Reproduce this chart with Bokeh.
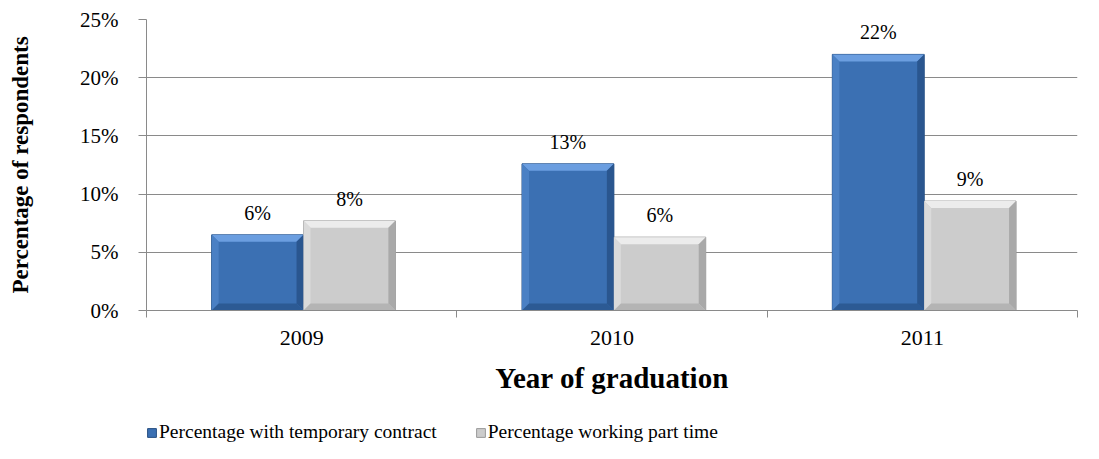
from bokeh.plotting import figure
from bokeh.layouts import column
from bokeh.models import FixedTicker, NumeralTickFormatter, Legend, LegendItem
from bokeh.core.properties import value
from bokeh.embed import file_html
from bokeh.resources import INLINE

# ---- data ----
years = ["2009", "2010", "2011"]
temporary = [0.065, 0.126, 0.220]
part_time = [0.077, 0.063, 0.094]
temporary_labels = ["6%", "13%", "22%"]
part_time_labels = ["8%", "6%", "9%"]
series_names = ["Percentage with temporary contract", "Percentage working part time"]
y_ticks = [0.0, 0.05, 0.10, 0.15, 0.20, 0.25]

FONT = "Liberation Serif"
GRID = "#8a8a8a"
BLUE, BLUE_LINE = "#3b70b3", "#274f82"
GRAY, GRAY_LINE = "#cccccc", "#9a9a9a"

LB, RB, TB, BB = 146, 14, 19, 101
frame_w = 931
frame_h = 291

p = figure(frame_width=frame_w, frame_height=frame_h, x_range=(0, 3), y_range=(0, 0.25),
           output_backend="svg", toolbar_location=None,
           min_border_left=LB, min_border_right=RB,
           min_border_top=TB, min_border_bottom=BB)
p.outline_line_color = None
p.background_fill_color = "white"
p.border_fill_color = "white"

# grid
p.xgrid.grid_line_color = None
p.ygrid.grid_line_color = GRID
p.ygrid.grid_line_width = 1
p.ygrid.ticker = FixedTicker(ticks=y_ticks)

# y axis
p.yaxis.ticker = FixedTicker(ticks=y_ticks)
p.yaxis.formatter = NumeralTickFormatter(format="0%")
p.yaxis.axis_line_color = GRID
p.yaxis.major_tick_line_color = GRID
p.yaxis.major_tick_out = 8
p.yaxis.major_tick_in = 0
p.yaxis.minor_tick_line_color = None
p.yaxis.major_label_text_font = FONT
p.yaxis.major_label_text_font_size = "21px"
p.yaxis.major_label_text_color = "black"
p.yaxis.major_label_standoff = 20
p.yaxis.axis_label = "Percentage of respondents"
p.yaxis.axis_label_text_font = FONT
p.yaxis.axis_label_text_font_size = "23px"
p.yaxis.axis_label_text_font_style = "bold"
p.yaxis.axis_label_text_color = "black"
p.yaxis.axis_label_standoff = 44

# x axis
centers = [i + 0.5 for i in range(len(years))]
p.xaxis.ticker = FixedTicker(ticks=centers, minor_ticks=[float(i) for i in range(len(years) + 1)])
p.xaxis.major_label_overrides = {c: y for c, y in zip(centers, years)}
p.xaxis.axis_line_color = GRID
p.xaxis.major_tick_line_color = None
p.xaxis.major_tick_out = 0
p.xaxis.major_tick_in = 0
p.xaxis.minor_tick_line_color = GRID
p.xaxis.minor_tick_out = 7
p.xaxis.minor_tick_in = 0
p.xaxis.major_label_text_font = FONT
p.xaxis.major_label_text_font_size = "22px"
p.xaxis.major_label_text_color = "black"
p.xaxis.major_label_standoff = 13
p.xaxis.axis_label = "Year of graduation"
p.xaxis.axis_label_text_font = FONT
p.xaxis.axis_label_text_font_size = "29px"
p.xaxis.axis_label_text_font_style = "bold"
p.xaxis.axis_label_text_color = "black"
p.xaxis.axis_label_standoff = 14

# bars
bar_w = 0.296
x_blue = [c - 0.142 for c in centers]
x_gray = [c + 0.154 for c in centers]

# shadows
sx = 3.0 / frame_w * 3
sy = 3.0 / frame_h * 0.25
p.quad(left=[x - bar_w / 2 + sx for x in x_blue], right=[x + bar_w / 2 + sx for x in x_gray],
       top=[0.0] * 3, bottom=[-sy] * 3, fill_color="#d8d8d8", line_color=None, fill_alpha=0.8)

p.vbar(x=x_blue, top=temporary, width=bar_w, fill_color=BLUE, line_color=BLUE_LINE, line_width=1)
p.vbar(x=x_gray, top=part_time, width=bar_w, fill_color=GRAY, line_color=GRAY_LINE, line_width=1)

# bevels
bx = 7.0 / frame_w * 3
by = 7.0 / frame_h * 0.25


def bevels(xs, tops, c_top, c_left, c_right, c_bottom):
    top_x, top_y, l_x, l_y, r_x, r_y, b_x, b_y = [], [], [], [], [], [], [], []
    for x, t in zip(xs, tops):
        L, R = x - bar_w / 2, x + bar_w / 2
        top_x.append([L, R, R - bx, L + bx]); top_y.append([t, t, t - by, t - by])
        l_x.append([L, L + bx, L + bx, L]); l_y.append([t, t - by, by, 0])
        r_x.append([R, R - bx, R - bx, R]); r_y.append([t, t - by, by, 0])
        b_x.append([L, L + bx, R - bx, R]); b_y.append([0, by, by, 0])
    p.patches(top_x, top_y, fill_color=c_top, line_color=None)
    p.patches(l_x, l_y, fill_color=c_left, line_color=None)
    p.patches(r_x, r_y, fill_color=c_right, line_color=None)
    p.patches(b_x, b_y, fill_color=c_bottom, line_color=None)


bevels(x_blue, temporary, "#6b9ee0", "#4a80c4", "#2a568f", "#2c5a94")
bevels(x_gray, part_time, "#ececec", "#dadada", "#a9a9a9", "#b4b4b4")

# data labels
p.text(x=x_blue, y=temporary, text=temporary_labels, text_align="center",
       text_baseline="middle", y_offset=-22, text_font=value(FONT),
       text_font_size="20px", text_color="black")
p.text(x=x_gray, y=part_time, text=part_time_labels, text_align="center",
       text_baseline="middle", y_offset=-22, text_font=value(FONT),
       text_font_size="20px", text_color="black")

# legend strip (separate small figure so the legend is not clipped)
q = figure(frame_width=frame_w, frame_height=38, x_range=(0, 1), y_range=(0, 1),
           output_backend="svg", toolbar_location=None,
           min_border_left=LB, min_border_right=RB, min_border_top=0, min_border_bottom=0)
q.outline_line_color = None
q.axis.visible = False
q.grid.visible = False
# legend swatches: one off-screen sample of each series style
lb = q.quad(left=[-3], right=[-2], bottom=[-3], top=[-2], fill_color=BLUE, line_color=BLUE_LINE)
lg = q.quad(left=[-3], right=[-2], bottom=[-3], top=[-2], fill_color=GRAY, line_color=GRAY_LINE)

legend = Legend(items=[LegendItem(label=series_names[0], renderers=[lb]),
                       LegendItem(label=series_names[1], renderers=[lg])],
                orientation="horizontal", location=(0, 6))
legend.border_line_color = None
legend.background_fill_alpha = 0
legend.label_text_font = FONT
legend.label_text_font_size = "19.5px"
legend.label_text_color = "black"
legend.glyph_width = 11
legend.glyph_height = 11
legend.label_standoff = 2
legend.spacing = 38
legend.padding = 0
legend.margin = 0
q.add_layout(legend)

layout = column(p, q, spacing=0)
open("out.html", "w").write(file_html(layout, INLINE))
